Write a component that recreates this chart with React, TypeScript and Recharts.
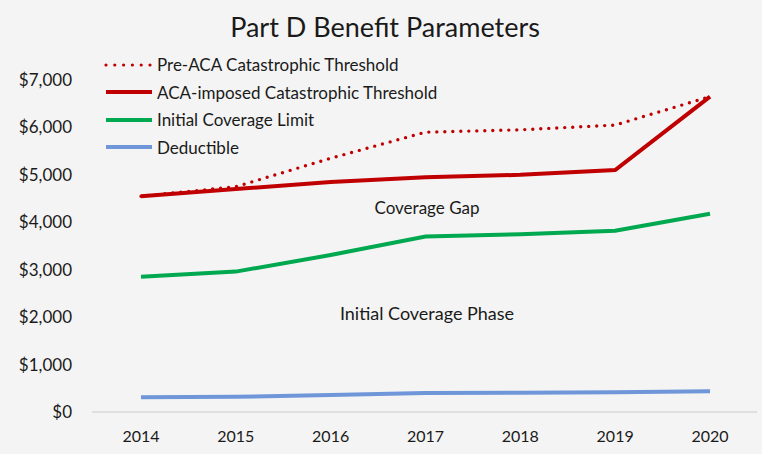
import { LineChart, Line, XAxis, YAxis } from 'recharts';

const YEARS = ['2014', '2015', '2016', '2017', '2018', '2019', '2020'];
const PRE_ACA = [4550, 4750, 5350, 5900, 5950, 6050, 6650];
const ACA_IMPOSED = [4550, 4700, 4850, 4950, 5000, 5100, 6650];
const INITIAL_LIMIT = [2850, 2960, 3310, 3700, 3750, 3820, 4180];
const DEDUCTIBLE = [310, 320, 360, 400, 405, 415, 435];
const Y_TICKS = [0, 1000, 2000, 3000, 4000, 5000, 6000, 7000];

const FONT = 'Lato, "Open Sans", sans-serif';
const INK = '#1a1a1a';

const SERIES = [
  { key: 'preAca', name: 'Pre-ACA Catastrophic Threshold', color: '#c00000', dotted: true },
  { key: 'acaImposed', name: 'ACA-imposed Catastrophic Threshold', color: '#c00000', dotted: false },
  { key: 'initialLimit', name: 'Initial Coverage Limit', color: '#00a84f', dotted: false },
  { key: 'deductible', name: 'Deductible', color: '#6f96d8', dotted: false },
];

const data = YEARS.map((year, i) => ({
  year,
  preAca: PRE_ACA[i],
  acaImposed: ACA_IMPOSED[i],
  initialLimit: INITIAL_LIMIT[i],
  deductible: DEDUCTIBLE[i],
}));

const formatDollar = (v: number) => (v === 0 ? '$0' : `$${v.toLocaleString('en-US')}`);

// legend drawn as an overlay so it does not push the plot area around
function LegendBox() {
  return (
    <div
      style={{
        position: 'absolute',
        left: 103,
        top: 51,
        fontFamily: FONT,
        fontSize: 17,
        color: INK,
      }}
    >
      {SERIES.map((s) => (
        <div key={s.key} style={{ display: 'flex', alignItems: 'center', height: 27.5 }}>
          <svg width={52} height={8} style={{ marginRight: 2 }}>
            <line
              x1={3}
              y1={4}
              x2={49}
              y2={4}
              stroke={s.color}
              strokeWidth={s.dotted ? 3.2 : 4}
              strokeDasharray={s.dotted ? '0 8.8' : undefined}
              strokeLinecap={s.dotted ? 'round' : 'butt'}
            />
          </svg>
          <span>{s.name}</span>
        </div>
      ))}
    </div>
  );
}

const noteStyle = {
  position: 'absolute' as const,
  left: 327,
  width: 200,
  textAlign: 'center' as const,
  fontSize: 17,
  color: INK,
};

export default function App() {
  return (
    <div
      style={{
        position: 'absolute',
        left: 0,
        top: 0,
        width: 762,
        height: 454,
        background: '#f4f4f4',
        fontFamily: FONT,
      }}
    >
      <div
        style={{
          position: 'absolute',
          top: 10,
          left: 4,
          width: 762,
          textAlign: 'center',
          fontSize: 27,
          color: INK,
        }}
      >
        Part D Benefit Parameters
      </div>
      <LineChart
        width={762}
        height={454}
        data={data}
        margin={{ top: 80, right: 5, bottom: 7, left: 0 }}
      >
        <XAxis
          dataKey="year"
          padding={{ left: 49, right: 47 }}
          axisLine={{ stroke: '#d9d9d9', strokeWidth: 1.5 }}
          tickLine={false}
          tick={{ fontSize: 16, fill: INK, fontFamily: FONT }}
          tickMargin={13}
          height={35}
        />
        <YAxis
          domain={[0, 7000]}
          ticks={Y_TICKS}
          tickFormatter={formatDollar}
          axisLine={false}
          tickLine={false}
          tick={{ fontSize: 17, fill: INK, fontFamily: FONT }}
          tickMargin={14}
          width={92}
        />
        {SERIES.map((s) => (
          <Line
            key={s.key}
            dataKey={s.key}
            name={s.name}
            type="linear"
            stroke={s.color}
            strokeWidth={s.dotted ? 3.4 : 4}
            strokeDasharray={s.dotted ? '0 8' : undefined}
            strokeLinecap={s.dotted ? 'round' : 'butt'}
            dot={false}
            activeDot={false}
            isAnimationActive={false}
          />
        ))}
      </LineChart>
      <LegendBox />
      <div style={{ ...noteStyle, top: 197 }}>Coverage Gap</div>
      <div style={{ ...noteStyle, top: 302, fontSize: 18 }}>Initial Coverage Phase</div>
    </div>
  );
}
